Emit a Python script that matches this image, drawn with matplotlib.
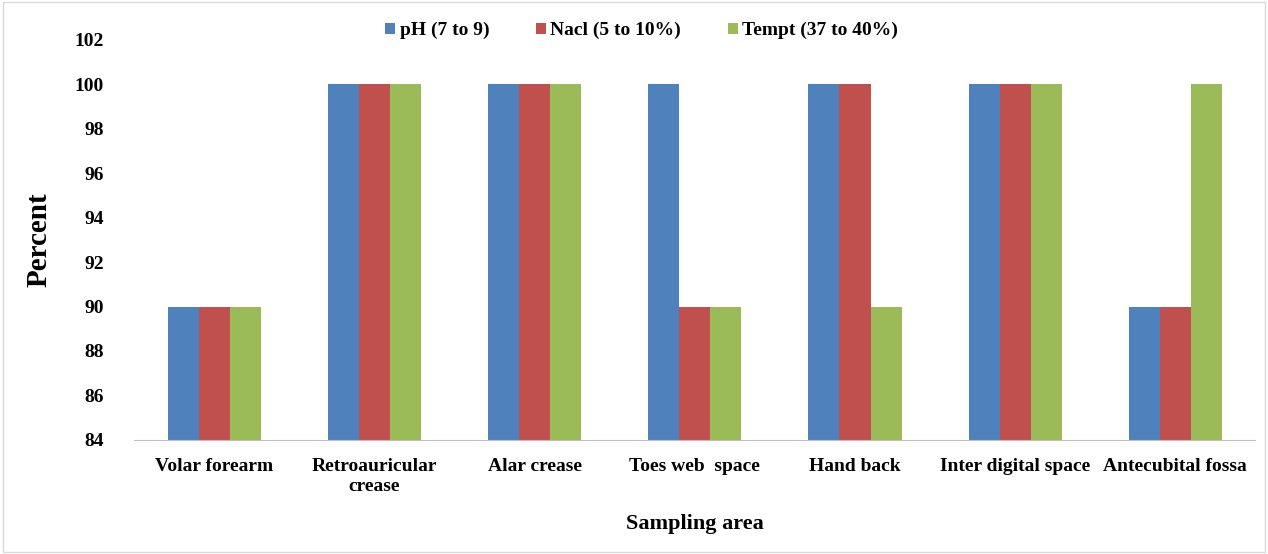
import matplotlib
matplotlib.use("Agg")
import matplotlib.pyplot as plt
import numpy as np

categories = ["Volar forearm", "Retroauricular\ncrease", "Alar crease", "Toes web  space",
              "Hand back", "Inter digital space", "Antecubital fossa"]
series_names = ["pH (7 to 9)", "Nacl (5 to 10%)", "Tempt (37 to 40%)"]
ph_vals = [90, 100, 100, 100, 100, 100, 90]
nacl_vals = [90, 100, 100, 90, 100, 100, 90]
tempt_vals = [90, 100, 100, 90, 90, 100, 100]
yticks = [84, 86, 88, 90, 92, 94, 96, 98, 100, 102]

colors = ["#4F81BD", "#C0504D", "#9BBB59"]

plt.rcParams['font.family'] = ['Liberation Serif', 'DejaVu Serif']
plt.rcParams['font.weight'] = 'bold'

fig = plt.figure(figsize=(12.68, 5.54), dpi=100)
ax = fig.add_axes([0.106, 0.206, 0.884, 0.722])

x = np.arange(len(categories))
w = 0.194
for i, (vals, name) in enumerate(zip([ph_vals, nacl_vals, tempt_vals], series_names)):
    ax.bar(x + (i - 1) * w, np.array(vals) - 84, bottom=84, width=w,
           color=colors[i], label=name)

ax.set_xlim(-0.5, len(categories) - 0.5)
ax.set_ylim(84, 102)
ax.set_yticks(yticks)
ax.set_yticklabels([str(t) for t in yticks], fontsize=14, fontweight='bold')
ax.set_xticks(x)
ax.set_xticklabels(categories, fontsize=14, fontweight='bold', linespacing=1.2)
ax.tick_params(axis='both', length=0)
ax.tick_params(axis='x', pad=13)
ax.tick_params(axis='y', pad=22)
for s in ['top', 'right', 'left']:
    ax.spines[s].set_visible(False)
ax.spines['bottom'].set_color('#BFBFBF')

ax.set_ylabel("Percent", fontsize=21, fontweight='bold', labelpad=16)
ax.set_xlabel("Sampling area", fontsize=16, fontweight='bold', labelpad=14)

leg = fig.legend(loc='center', bbox_to_anchor=(0.506, 0.945), ncol=3, frameon=False,
                 prop={'size': 14, 'weight': 'bold'}, handlelength=0.5, handleheight=0.5,
                 handletextpad=0.25, columnspacing=2.4)

fig.patches.append(plt.Rectangle((0.002, 0.004), 0.996, 0.992, transform=fig.transFigure,
                                 fill=False, edgecolor='#D9D9D9', linewidth=1))

fig.savefig("out.png", dpi=100)
